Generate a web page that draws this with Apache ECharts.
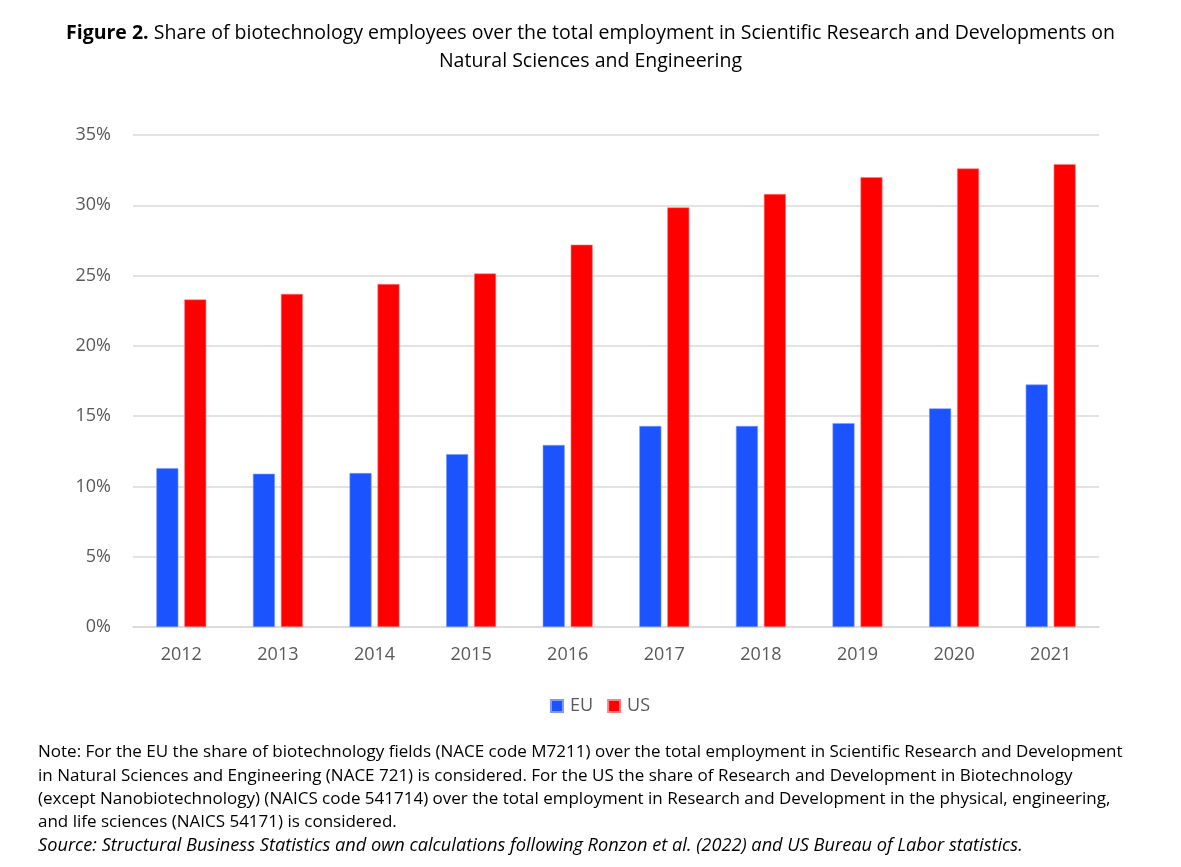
<!DOCTYPE html>
<html><head><meta charset="utf-8">
<script src="https://cdn.jsdelivr.net/npm/echarts@6/dist/echarts.min.js"></script>
<style>html,body{margin:0;padding:0;background:#fff}#c{width:1181px;height:867px}</style>
</head><body><div id="c"></div>
<script>
var categories = ['2012','2013','2014','2015','2016','2017','2018','2019','2020','2021'];
var euValues = [11.3, 10.9, 10.95, 12.3, 12.95, 14.3, 14.3, 14.5, 15.55, 17.25];
var usValues = [23.3, 23.7, 24.4, 25.15, 27.2, 29.85, 30.8, 32.0, 32.62, 32.93];
var yTicks = [0, 5, 10, 15, 20, 25, 30, 35];
var noteLines = [
 'Note: For the EU the share of biotechnology fields (NACE code M7211) over the total employment in Scientific Research and Development',
 'in Natural Sciences and Engineering (NACE 721) is considered. For the US the share of Research and Development in Biotechnology',
 '(except Nanobiotechnology) (NAICS code 541714) over the total employment in Research and Development in the physical, engineering,',
 'and life sciences (NAICS 54171) is considered.'
];
var sourceLine = 'Source: Structural Business Statistics and own calculations following Ronzon et al. (2022) and US Bureau of Labor statistics.';

var chart = echarts.init(document.getElementById('c'));
var font = '"Open Sans", "Noto Sans", sans-serif';
var graphics = noteLines.map(function(t, i){
  return {type:'text', left:38, top:744 + i*23.3, style:{text:t, font:'17px "Open Sans", sans-serif', fill:'#000'}};
});
graphics.push({type:'text', left:38, top:744 + 4*23.3, style:{text:sourceLine, font:'italic 18.2px "Open Sans", sans-serif', fill:'#000'}});
graphics.push({type:'text', left:'center', top:23, style:{
  rich:{b:{fontWeight:'bold', fontSize:19.5, fontFamily:font, fill:'#000'}, n:{fontSize:19.5, fontFamily:font, fill:'#000'}},
  text:'{b|Figure 2.}{n| Share of biotechnology employees over the total employment in Scientific Research and Developments on}',
}});
graphics.push({type:'text', left:'center', top:51, style:{text:'Natural Sciences and Engineering', font:'19.5px '+font, fill:'#000'}});

chart.setOption({
  animation:false,
  backgroundColor:'#fff',
  graphic: graphics,
  grid:{left:133, right:82, top:135, bottom:240},
  legend:{data:['EU','US'], top:692, left:545, itemWidth:12, itemHeight:12, itemGap:14,
    icon:'rect', textStyle:{fontSize:18, color:'#595959', fontFamily:font, padding:[0,0,0,2]}},
  xAxis:{type:'category', data:categories,
    axisLine:{lineStyle:{color:'#d9d9d9', width:1.5}}, axisTick:{show:false},
    axisLabel:{fontSize:18, color:'#595959', fontFamily:font, margin:19}},
  yAxis:{type:'value', min:0, max:35, interval:5,
    axisLabel:{fontSize:18, color:'#595959', fontFamily:font, margin:22, formatter:function(v){return v+'%';}},
    splitLine:{lineStyle:{color:'#d9d9d9', width:1.5}}, axisLine:{show:false}, axisTick:{show:false}},
  series:[
    {name:'EU', type:'bar', data:euValues, barWidth:22, barGap:'27%', itemStyle:{color:'#1a53ff', borderColor:'#7d9bff', borderWidth:0.6}},
    {name:'US', type:'bar', data:usValues, barWidth:22, itemStyle:{color:'#ff0000', borderColor:'#ff7f7f', borderWidth:0.6}}
  ]
});
</script></body></html>
